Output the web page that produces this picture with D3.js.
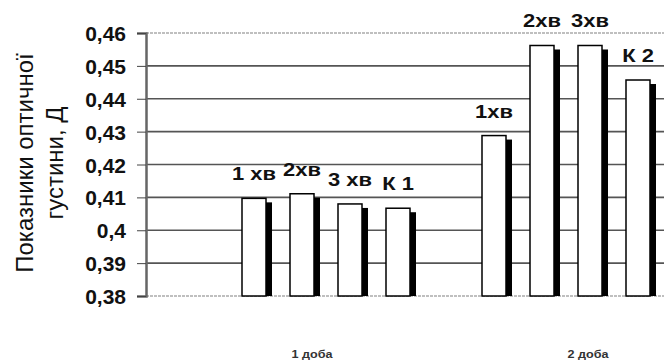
<!DOCTYPE html>
<html><head><meta charset="utf-8">
<script src="https://cdn.jsdelivr.net/npm/d3@7"></script>
<style>body{margin:0;background:#fff}svg{display:block}</style>
</head><body>
<svg id="c" width="664" height="363"></svg>
<script>
const categories = ["1 доба", "2 доба"];
const barLabels = [["1 хв", "2хв", "3 хв", "К 1"], ["1хв", "2хв", "3хв", "К 2"]];
const values = [[0.4097, 0.4111, 0.408, 0.4067], [0.4288, 0.4562, 0.4562, 0.4457]];
const yTicks = [0.38, 0.39, 0.40, 0.41, 0.42, 0.43, 0.44, 0.45, 0.46];
const yTitle = ["Показники оптичної", "густини, Д"];

(function () {
const svg = d3.select("#c");
const FF = "Liberation Sans, Arial, sans-serif";
const mLeft = 146, mTop = 33, mBottom = 296;
const y = d3.scaleLinear().domain([0.38, 0.46]).range([mBottom, mTop]);
const x0 = d3.scaleBand().domain(categories).range([194, 674]);
const x1 = d3.scaleBand().domain([0,1,2,3]).range([0, x0.bandwidth()]).paddingInner(0).paddingOuter(0.5).align(1);
const bw = x1.bandwidth() / 2;
const fmt = v => String(+v.toFixed(2)).replace(".", ",");
const edge = i => i === 0 || i === yTicks.length - 1;

// gridlines
svg.append("g").selectAll("line").data(yTicks).join("line")
  .attr("x1", mLeft).attr("x2", 664)
  .attr("y1", d => y(d)).attr("y2", d => y(d))
  .attr("stroke", (d, i) => edge(i) ? "#aaa" : "#555")
  .attr("stroke-width", (d, i) => edge(i) ? 1.5 : 1.6)
  .attr("stroke-dasharray", (d, i) => edge(i) ? "3,1" : null);

// y axis
const yAxis = d3.axisLeft(y).tickValues(yTicks).tickFormat(fmt).tickSize(9).tickPadding(11);
const ga = svg.append("g").attr("transform", `translate(${mLeft},0)`).call(yAxis);
ga.select(".domain").attr("stroke", "#666").attr("stroke-width", 2.5);
ga.selectAll(".tick line").attr("stroke", "#444").attr("stroke-width", 1);
ga.selectAll(".tick text").attr("font-family", FF)
  .attr("font-weight", "bold").attr("font-size", 21).attr("fill", "#111").attr("dy", "0.36em");

// y title
const tt = svg.append("text").attr("transform", "translate(0,163) rotate(-90)")
  .attr("text-anchor", "middle").attr("font-family", FF)
  .attr("font-size", 24).attr("fill", "#111");
tt.append("tspan").attr("x", 0).attr("y", 33).text(yTitle[0]);
tt.append("tspan").attr("x", 0).attr("y", 63).text(yTitle[1]);

// bars
const flat = [];
categories.forEach((c, ci) => values[ci].forEach((v, si) => flat.push({c, si, v, label: barLabels[ci][si]})));
const gb = svg.append("g");
gb.selectAll("rect.sh").data(flat).join("rect").attr("class", "sh")
  .attr("x", d => x0(d.c) + x1(d.si) + 6).attr("y", d => y(d.v) + 4)
  .attr("width", bw).attr("height", d => mBottom - y(d.v) - 4).attr("fill", "#000");
gb.selectAll("rect.b").data(flat).join("rect").attr("class", "b")
  .attr("x", d => x0(d.c) + x1(d.si)).attr("y", d => y(d.v))
  .attr("width", bw).attr("height", d => mBottom - y(d.v))
  .attr("fill", "#fff").attr("stroke", "#000").attr("stroke-width", 1.5);
gb.selectAll("text").data(flat).join("text")
  .attr("transform", d => `translate(${x0(d.c) + x1(d.si) + bw / 2},${y(d.v) - 18}) scale(1.22,1)`)
  .attr("text-anchor", "middle").attr("font-family", FF)
  .attr("font-weight", "bold").attr("font-size", 18).attr("fill", "#111").text(d => d.label);

// category labels
const xc = d3.scaleBand().domain(categories).range([174, 726]);
svg.append("g").selectAll("text").data(categories).join("text")
  .attr("transform", d => `translate(${xc(d) + xc.bandwidth() / 2},358) scale(1.2,1)`)
  .attr("text-anchor", "middle").attr("font-family", FF)
  .attr("font-size", 10.5).attr("font-weight", "bold").attr("fill", "#333").text(d => d);
})();
</script>
</body></html>
